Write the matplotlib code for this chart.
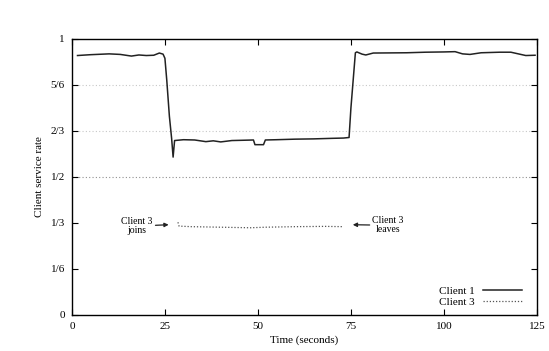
import matplotlib
matplotlib.use("Agg")
import matplotlib.pyplot as plt

plt.rcParams['font.family'] = ['Liberation Serif', 'DejaVu Serif']

# Client 1 service rate
c1_t = [1.5, 5, 10, 13, 16, 18, 20, 22, 23.5, 24.5, 25, 25.5, 26.2, 26.8, 27.2, 27.6,
        30, 33, 36, 38, 40, 43, 46, 48.8, 49.2, 51.5, 52, 55, 60, 65, 70, 73, 74.5,
        75, 75.6, 76.2, 76.6, 78, 79, 81, 90, 95, 100, 103, 105, 107, 110, 115, 118,
        120, 122, 124.5]
c1_v = [0.940, 0.943, 0.946, 0.944, 0.938, 0.942, 0.940, 0.941, 0.949, 0.945, 0.93,
        0.85, 0.72, 0.64, 0.572, 0.632, 0.635, 0.634, 0.628, 0.631, 0.627, 0.632,
        0.633, 0.634, 0.617, 0.617, 0.634, 0.635, 0.637, 0.638, 0.640, 0.641, 0.643,
        0.75, 0.85, 0.95, 0.953, 0.945, 0.942, 0.949, 0.950, 0.952, 0.953, 0.954,
        0.946, 0.944, 0.950, 0.952, 0.952, 0.946, 0.940, 0.941]

# Client 3 service rate
c3_t = [28.5, 28.8, 32, 40, 48, 52, 60, 68, 72.8]
c3_v = [0.336, 0.322, 0.320, 0.318, 0.316, 0.318, 0.320, 0.321, 0.320]

yticks = [0, 1/6, 1/3, 1/2, 2/3, 5/6, 1]
ytick_labels = ["0", "1/6", "1/3", "1/2", "2/3", "5/6", "1"]
xticks = [0, 25, 50, 75, 100, 125]

fig = plt.figure(figsize=(5.49, 3.51), dpi=100)
ax = fig.add_axes([0.131, 0.1026, 0.847, 0.7864])

for g, c in [(5/6, '#c8c8c8'), (2/3, '#c8c8c8'), (1/2, '#909090')]:
    ax.axhline(g, color=c, linestyle=(0, (1, 2)), linewidth=0.8, zorder=0)

ax.plot(c1_t, c1_v, color='#222222', linewidth=1.1, label='Client 1')
ax.plot(c3_t, c3_v, color='#555555', linewidth=0.9, linestyle=(0, (1, 1.5)), label='Client 3')

ax.set_xlim(0, 125)
ax.set_ylim(0, 1)
ax.set_xticks(xticks)
ax.set_xticklabels([str(x) for x in xticks], fontsize=8)
ax.set_yticks(yticks)
ax.set_yticklabels(ytick_labels, fontsize=8)
ax.tick_params(direction='in', length=4, width=0.8, top=True, right=True, pad=5)
for s in ax.spines.values():
    s.set_linewidth(1.0)

ax.set_xlabel("Time (seconds)", fontsize=8, labelpad=3)
ax.set_ylabel("Client service rate", fontsize=8, labelpad=5)

ax.annotate("Client 3\njoins", xy=(26, 0.327), xytext=(17.5, 0.322),
            ha='center', va='center', fontsize=7, linespacing=1.0,
            arrowprops=dict(arrowstyle='-|>', color='#222222', lw=0.9, mutation_scale=6,
                            shrinkA=14, shrinkB=0))
ax.annotate("Client 3\nleaves", xy=(75.5, 0.327), xytext=(85, 0.325),
            ha='center', va='center', fontsize=7, linespacing=1.0,
            arrowprops=dict(arrowstyle='-|>', color='#222222', lw=0.9, mutation_scale=6,
                            shrinkA=15, shrinkB=0))

leg = ax.legend(loc='lower right', frameon=False, fontsize=8, handlelength=3.5,
                markerfirst=False, borderaxespad=0.3, labelspacing=0.1,
                bbox_to_anchor=(0.985, 0.0))

fig.savefig("out.png", dpi=100)
